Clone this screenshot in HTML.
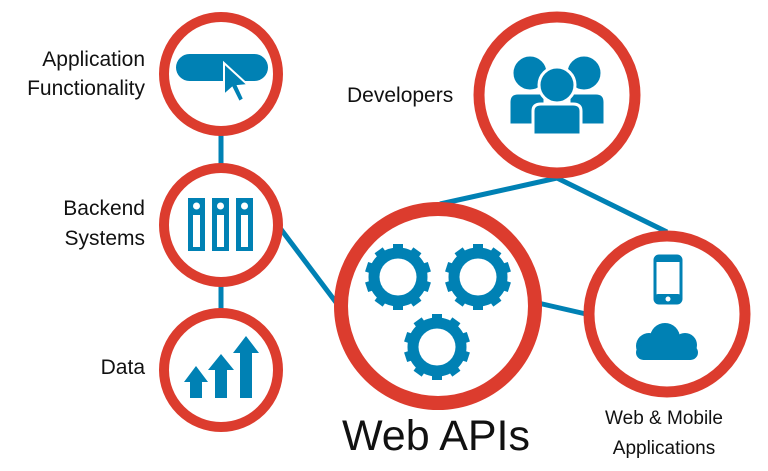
<!DOCTYPE html>
<html><head><style>
html,body{margin:0;padding:0;background:#fff;}
svg{display:block}
text{font-family:"Liberation Sans",sans-serif;fill:#111}
</style></head><body>
<svg width="768" height="471" viewBox="0 0 768 471" xmlns="http://www.w3.org/2000/svg">
<defs>
<g id="gear">
<g fill="#0081b4">
<rect x="-5" y="-33" width="10" height="66"/>
<rect x="-5" y="-33" width="10" height="66" transform="rotate(36)"/>
<rect x="-5" y="-33" width="10" height="66" transform="rotate(72)"/>
<rect x="-5" y="-33" width="10" height="66" transform="rotate(108)"/>
<rect x="-5" y="-33" width="10" height="66" transform="rotate(144)"/>
</g>
<circle r="24" fill="none" stroke="#0081b4" stroke-width="11"/>
<circle r="18.5" fill="#fff"/>
</g>
</defs>
<g stroke="#0081b4" stroke-width="5" fill="none">
<line x1="221" y1="130" x2="221" y2="170"/>
<line x1="221" y1="280" x2="221" y2="315"/>
<line x1="280" y1="228" x2="338" y2="305"/>
<line x1="440" y1="204" x2="557" y2="178"/>
<line x1="557" y1="178" x2="667" y2="232"/>
<line x1="538" y1="303" x2="586" y2="314"/>
</g>
<g fill="#fff" stroke="#dc3c2e">
<circle cx="221" cy="74" r="57" stroke-width="10"/>
<circle cx="221" cy="225" r="57" stroke-width="10"/>
<circle cx="221" cy="370" r="57" stroke-width="10"/>
<circle cx="557" cy="95" r="78" stroke-width="11"/>
<circle cx="438" cy="306" r="97" stroke-width="14"/>
<circle cx="667" cy="314" r="78" stroke-width="11"/>
</g>
<rect x="176" y="54" width="92" height="27" rx="13.5" fill="#0081b4"/>
<path d="M224 63 L224 95 L232 88 L239 102 L244 99 L238 86 L248 85 Z" fill="#0081b4" stroke="#fff" stroke-width="2"/>
<g fill="#0081b4">
<rect x="188" y="198" width="17" height="53"/><rect x="212" y="198" width="17" height="53"/><rect x="236" y="198" width="17" height="53"/>
</g>
<g fill="#fff">
<circle cx="196.5" cy="206" r="3.5"/><circle cx="220.5" cy="206" r="3.5"/><circle cx="244.5" cy="206" r="3.5"/>
<rect x="193" y="215" width="7" height="32"/><rect x="217" y="215" width="7" height="32"/><rect x="241" y="215" width="7" height="32"/>
</g>
<g fill="#0081b4">
<path d="M184 382 L196 366 L208 382 L202 382 L202 398 L190 398 L190 382 Z"/>
<path d="M208 370 L221 354 L234 370 L227 370 L227 398 L215 398 L215 370 Z"/>
<path d="M233 353 L246 336 L259 353 L252 353 L252 398 L240 398 L240 353 Z"/>
</g>
<g fill="#0081b4" stroke="#fff" stroke-width="3">
<circle cx="530" cy="73" r="18"/><circle cx="584" cy="73" r="18"/>
<path d="M509 125 L509 102 Q509 93 518 93 L545 93 L545 125 Z"/>
<path d="M605 125 L605 102 Q605 93 596 93 L569 93 L569 125 Z"/>
<circle cx="557" cy="85" r="18"/>
<path d="M533 135 L533 111 Q533 104 541 104 L573 104 Q581 104 581 111 L581 135 Z"/>
</g>
<use href="#gear" x="398" y="277"/>
<use href="#gear" x="478" y="277"/>
<use href="#gear" x="437" y="347"/>
<rect x="655" y="256" width="26" height="47" rx="4" fill="#fff" stroke="#0081b4" stroke-width="3"/>
<rect x="655" y="256" width="26" height="6" fill="#0081b4"/>
<rect x="655" y="294" width="26" height="9" rx="3" fill="#0081b4"/>
<circle cx="668" cy="299" r="2.5" fill="#fff"/>
<g fill="#0081b4">
<circle cx="665" cy="338" r="15"/><circle cx="649" cy="346" r="13"/><circle cx="685" cy="345" r="12"/>
<rect x="636" y="345" width="62" height="15" rx="7.5"/>
</g>
<g font-size="21">
<text x="145" y="66" text-anchor="end">Application</text>
<text x="145" y="95" text-anchor="end">Functionality</text>
<text x="145" y="215" text-anchor="end">Backend</text>
<text x="145" y="245" text-anchor="end">Systems</text>
<text x="145" y="374" text-anchor="end">Data</text>
<text x="347" y="102">Developers</text>
</g>
<text x="436" y="450" text-anchor="middle" font-size="43">Web APIs</text>
<g font-size="19" text-anchor="middle">
<text x="664" y="424">Web &amp; Mobile</text>
<text x="664" y="454">Applications</text>
</g>
</svg>
</body></html>
